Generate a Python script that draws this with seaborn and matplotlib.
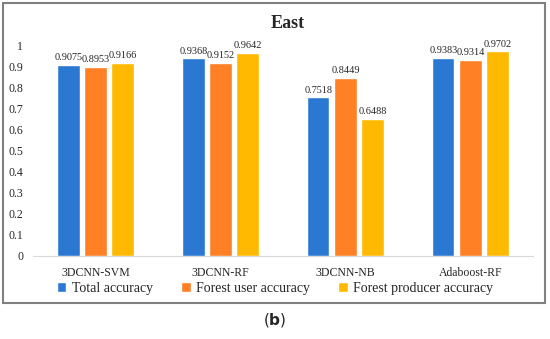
import pandas as pd
import matplotlib
matplotlib.use('Agg')
import matplotlib.pyplot as plt
import seaborn as sns
from matplotlib.patches import Rectangle

# data
methods = ['3DCNN-SVM', '3DCNN-RF', '3DCNN-NB', 'Adaboost-RF']
series = ['Total accuracy', 'Forest user accuracy', 'Forest producer accuracy']
total_acc = [0.9075, 0.9368, 0.7518, 0.9383]
user_acc = [0.8953, 0.9152, 0.8449, 0.9314]
producer_acc = [0.9166, 0.9642, 0.6488, 0.9702]
colors = ['#2B78D2', '#FF8025', '#FFBA00']

rows = []
for name, vals in zip(series, [total_acc, user_acc, producer_acc]):
    for m, v in zip(methods, vals):
        rows.append({'method': m, 'series': name, 'value': v})
df = pd.DataFrame(rows)

sns.set_style('white')
plt.rcParams['font.family'] = ['Liberation Serif', 'DejaVu Serif']

fig = plt.figure(figsize=(5.5, 3.39), dpi=100)
ax = fig.add_axes([0.06, 0.245, 0.909, 0.622])

sns.barplot(data=df, x='method', y='value', hue='series', palette=colors,
            width=0.65, gap=0.18, ax=ax, saturation=1)

for c in ax.containers:
    ax.bar_label(c, fmt='%.4f', fontsize=7.4, padding=2)

ax.set_ylim(0, 1)
ax.set_yticks([i / 10 for i in range(11)])
ax.set_yticklabels(['0', '0.1', '0.2', '0.3', '0.4', '0.5', '0.6', '0.7', '0.8', '0.9', '1'])
ax.tick_params(axis='both', length=0, labelsize=8.5)
ax.tick_params(axis='y', pad=7)
ax.tick_params(axis='x', pad=8)
ax.set_xlabel('')
ax.set_ylabel('')
for s in ['top', 'right', 'left']:
    ax.spines[s].set_visible(False)
ax.spines['bottom'].set_color('#D9D9D9')
ax.set_title('East', fontsize=13, fontweight='bold', pad=12, x=0.51)

ax.legend(loc='center', bbox_to_anchor=(0.5, 0.15), bbox_transform=fig.transFigure,
          ncol=3, frameon=False, fontsize=10, handlelength=0.7, handleheight=0.7,
          columnspacing=2.0, handletextpad=0.4)

# outer chart frame
fig.patches.append(Rectangle((0.006, 0.106), 0.985, 0.885, transform=fig.transFigure,
                             fill=False, edgecolor='#808080', linewidth=1.5))

fig.text(0.5, 0.055, r'($\mathbf{b}$)', ha='center', va='center', fontsize=11,
         family='DejaVu Sans')

fig.savefig('out.png', dpi=100)
